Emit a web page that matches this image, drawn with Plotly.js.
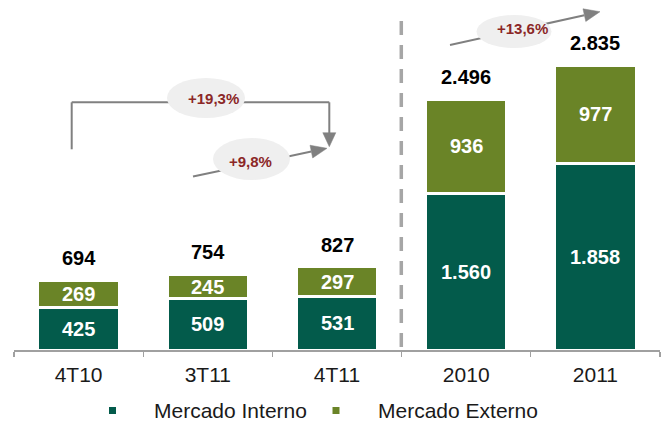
<!DOCTYPE html>
<html>
<head>
<meta charset="utf-8">
<script src="https://cdn.plot.ly/plotly-3.0.1.min.js"></script>
<style>html,body{margin:0;padding:0;background:#fff;}#chart{width:663px;height:421px;}</style>
</head>
<body>
<div id="chart"></div>
<script>
// ---- data ----
const categories = ['4T10', '3T11', '4T11', '2010', '2011'];
const mercadoInterno = [425, 509, 531, 1560, 1858];
const mercadoExterno = [269, 245, 297, 936, 977];
const totals = [694, 754, 827, 2496, 2835];
const growthLabels = ['+19,3%', '+9,8%', '+13,6%'];
const seriesNames = ['Mercado Interno', 'Mercado Externo'];

// ---- style ----
const W = 663, H = 421;
const M = {l: 14, r: 3, t: 10, b: 71};
const PW = W - M.l - M.r, PH = H - M.t - M.b;
const YMAX = 3386;
const DARK = '#035B4B', OLIVE = '#6A8427';
const FONT = 'Liberation Sans, Arial, sans-serif';
const RED = '#8B2727';
const GREY = '#808080';

const fmt = n => String(n).replace(/\B(?=(\d{3})+(?!\d))/g, '.');
const px = x => (x - M.l) / PW;
const py = y => (H - M.b - y) / PH;

const traces = [
  {type: 'bar', x: categories, y: mercadoInterno, name: seriesNames[0],
   marker: {color: DARK, line: {color: '#ffffff', width: 3}}, hoverinfo: 'none'},
  {type: 'bar', x: categories, y: mercadoExterno, name: seriesNames[1],
   marker: {color: OLIVE, line: {color: '#ffffff', width: 3}}, hoverinfo: 'none'}
];

const annotations = [];
categories.forEach((c, i) => {
  const base = {xref: 'x', yref: 'y', x: i, showarrow: false, xanchor: 'center', yanchor: 'middle'};
  annotations.push(Object.assign({}, base, {y: mercadoInterno[i] / 2, text: '<b>' + fmt(mercadoInterno[i]) + '</b>',
    font: {family: FONT, size: 20, color: '#ffffff'}}));
  annotations.push(Object.assign({}, base, {y: mercadoInterno[i] + mercadoExterno[i] / 2, text: '<b>' + fmt(mercadoExterno[i]) + '</b>',
    font: {family: FONT, size: 20, color: '#ffffff'}}));
  annotations.push(Object.assign({}, base, {y: totals[i], yshift: 22, text: '<b>' + fmt(totals[i]) + '</b>',
    font: {family: FONT, size: 20, color: '#000000'}}));
});

// growth bubbles (pixel geometry converted to paper)
const bubbles = [
  {cx: 206, cy: 98, w: 78, h: 40, tx: 213, ty: 99, label: growthLabels[0]},
  {cx: 251.5, cy: 159, w: 77, h: 42, tx: 250, ty: 161, label: growthLabels[1]},
  {cx: 514, cy: 31.5, w: 75, h: 33, tx: 522, ty: 28, label: growthLabels[2]}
];

const shapes = [];
function lineSeg(x0, y0, x1, y1) {
  shapes.push({type: 'line', xref: 'paper', yref: 'paper', x0: px(x0), y0: py(y0), x1: px(x1), y1: py(y1),
    line: {color: GREY, width: 2}});
}
function arrowHead(fx, fy, tx, ty, len, wid) {
  const dx = tx - fx, dy = ty - fy, d = Math.hypot(dx, dy);
  const ux = dx / d, uy = dy / d;
  const bx = tx - ux * len, by = ty - uy * len;
  const nx = -uy * wid / 2, ny = ux * wid / 2;
  const p = [[tx, ty], [bx + nx, by + ny], [bx - nx, by - ny]];
  const path = 'M' + p.map(q => px(q[0]) + ',' + py(q[1])).join(' L') + ' Z';
  shapes.push({type: 'path', xref: 'paper', yref: 'paper', path: path, fillcolor: GREY, line: {color: GREY, width: 0.5}});
  return [bx, by];
}

// dashed separator
shapes.push({type: 'line', xref: 'paper', yref: 'paper', x0: px(401.3), x1: px(401.3), y0: py(21), y1: py(350),
  line: {color: '#A6A6A6', width: 3.5, dash: '14px,10px'}});

// bracket for +19,3%
lineSeg(71.7, 149.3, 71.7, 102.3);
lineSeg(71.7, 102.3, 329.3, 102.3);
lineSeg(329.3, 102.3, 329.3, 135);
arrowHead(329.3, 102.3, 329.3, 146.7, 14, 13);
// +9,8% arrow
let b = arrowHead(193, 176.5, 327, 148.3, 16, 13);
lineSeg(193, 176.5, b[0], b[1]);
// +13,6% arrow
b = arrowHead(450, 45, 600, 11.7, 16, 13);
lineSeg(450, 45, b[0], b[1]);

bubbles.forEach(o => {
  shapes.push({type: 'circle', xref: 'paper', yref: 'paper',
    x0: px(o.cx - o.w / 2), x1: px(o.cx + o.w / 2), y0: py(o.cy + o.h / 2), y1: py(o.cy - o.h / 2),
    fillcolor: '#EFEFEF', line: {width: 0}});
  annotations.push({xref: 'paper', yref: 'paper', x: px(o.tx), y: py(o.ty), xanchor: 'center', yanchor: 'middle',
    text: '<b>' + o.label + '</b>', showarrow: false, font: {family: FONT, size: 15, color: RED}});
});

// legend (drawn manually for exact spacing)
const legendItems = [{sx: 112.5, tx: 153, color: DARK, name: seriesNames[0]},
                     {sx: 336, tx: 376.5, color: OLIVE, name: seriesNames[1]}];
const LY = 410.5;
legendItems.forEach(it => {
  shapes.push({type: 'rect', xref: 'paper', yref: 'paper', x0: px(it.sx - 3.5), x1: px(it.sx + 3.5),
    y0: py(LY + 3.5), y1: py(LY - 3.5), fillcolor: it.color, line: {width: 0}});
  annotations.push({xref: 'paper', yref: 'paper', x: px(it.tx), y: py(LY), xanchor: 'left', yanchor: 'middle',
    text: it.name, showarrow: false, font: {family: FONT, size: 21, color: '#1a1a1a'}, borderpad: 0});
});

const layout = {
  width: W, height: H,
  margin: M,
  paper_bgcolor: '#ffffff', plot_bgcolor: '#ffffff',
  barmode: 'stack', bargap: 0.37,
  font: {family: FONT, color: '#1a1a1a'},
  xaxis: {type: 'category', range: [-0.5, 4.5], showline: true, linecolor: '#A0A0A0', linewidth: 1.5,
    ticks: 'outside', tickson: 'boundaries', ticklen: 5, tickcolor: '#A0A0A0', tickwidth: 1.2,
    showgrid: false, zeroline: false, fixedrange: true, ticklabelstandoff: 5, automargin: false,
    tickfont: {family: FONT, size: 21, color: '#1a1a1a'}},
  yaxis: {visible: false, range: [0, YMAX], fixedrange: true},
  showlegend: false,
  shapes: shapes,
  annotations: annotations
};

Plotly.newPlot('chart', traces, layout, {displayModeBar: false, staticPlot: true});
</script>
</body>
</html>
